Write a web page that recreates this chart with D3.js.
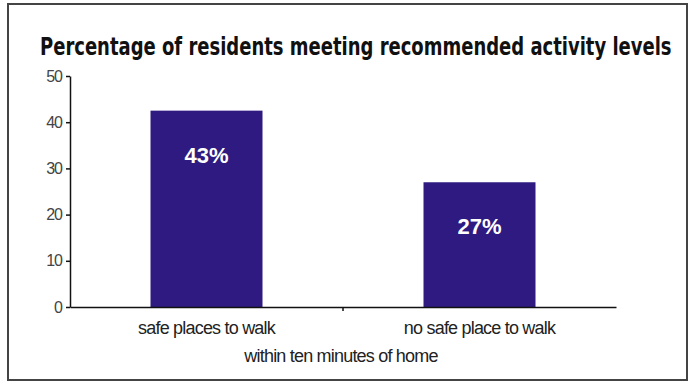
<!DOCTYPE html>
<html>
<head>
<meta charset="utf-8">
<script src="https://cdn.jsdelivr.net/npm/d3@7"></script>
<style>
  body { margin: 0; background: #fff; }
  svg text { font-family: "Liberation Sans", Arial, sans-serif; }
</style>
</head>
<body>
<svg></svg>
<script>
// data
const categories = ["safe places to walk", "no safe place to walk"];
const values = [42.5, 27];
const valueLabels = ["43%", "27%"];
const yTicks = [0, 10, 20, 30, 40, 50];

const width = 694;
const height = 383;
const svg = d3.select("svg").attr("width", width).attr("height", height);

// outer frame
svg.append("rect")
    .attr("x", 8).attr("y", 4)
    .attr("width", 679).attr("height", 376)
    .attr("fill", "#fff")
    .attr("stroke", "#444")
    .attr("stroke-width", 2);

// title - condensed bold, squeezed horizontally to fit the frame
const title = svg.append("text")
    .attr("x", 0).attr("y", 0)
    .style("font-family", "'DejaVu Sans Condensed', 'Liberation Sans Narrow', sans-serif")
    .style("font-weight", "bold")
    .style("font-stretch", "condensed")
    .style("font-size", "25px")
    .attr("fill", "#111")
    .text("Percentage of residents meeting recommended activity levels");
const titleW = title.node().getComputedTextLength();
title.attr("transform", `translate(40,55) scale(${632 / titleW},1)`);

// scales
const x = d3.scaleBand().domain(categories).range([70, 616]).paddingInner(0).paddingOuter(0);
const y = d3.scaleLinear().domain([0, 50]).range([307, 76]);
const barWidth = 112;

// y axis
const yAxis = svg.append("g")
    .attr("transform", "translate(70,0)")
    .call(d3.axisLeft(y).tickValues(yTicks).tickSize(4).tickSizeOuter(0).tickPadding(4));
yAxis.select(".domain").attr("stroke", "#111").attr("stroke-width", 1.5);
yAxis.selectAll(".tick line").attr("stroke", "#111").attr("stroke-width", 1.5);
yAxis.selectAll("text")
    .style("font-size", "16px")
    .style("letter-spacing", "-1px")
    .attr("fill", "#444");

// bars
svg.selectAll(".bar")
    .data(values)
    .enter()
    .append("rect")
    .attr("x", (d, i) => x(categories[i]) + x.bandwidth() / 2 - barWidth / 2)
    .attr("y", (d) => y(d))
    .attr("width", barWidth)
    .attr("height", (d) => y(0) - y(d))
    .attr("fill", "#2e1a80");

// value labels inside bars
svg.selectAll(".vlabel")
    .data(values)
    .enter()
    .append("text")
    .attr("x", (d, i) => x(categories[i]) + x.bandwidth() / 2)
    .attr("y", (d) => y(d) + 52)
    .attr("text-anchor", "middle")
    .style("font-size", "22px")
    .style("font-weight", "bold")
    .attr("fill", "#fff")
    .text((d, i) => valueLabels[i]);

// x axis
const xAxis = svg.append("g")
    .attr("transform", `translate(0,${y(0)})`)
    .call(d3.axisBottom(x).tickSize(0).tickSizeOuter(0).tickPadding(14));
xAxis.select(".domain").attr("stroke", "#111").attr("stroke-width", 1.5);
xAxis.selectAll(".tick line").remove();
xAxis.selectAll("text")
    .style("font-size", "18px")
    .style("letter-spacing", "-0.8px")
    .attr("fill", "#222");
// small divider tick between categories
svg.append("line")
    .attr("x1", x(categories[1])).attr("x2", x(categories[1]))
    .attr("y1", y(0)).attr("y2", y(0) + 4)
    .attr("stroke", "#111").attr("stroke-width", 1.5);

// x axis subtitle
svg.append("text")
    .attr("x", 341).attr("y", 362)
    .attr("text-anchor", "middle")
    .style("font-size", "18px")
    .style("letter-spacing", "-0.8px")
    .attr("fill", "#222")
    .text("within ten minutes of home");
</script>
</body>
</html>
